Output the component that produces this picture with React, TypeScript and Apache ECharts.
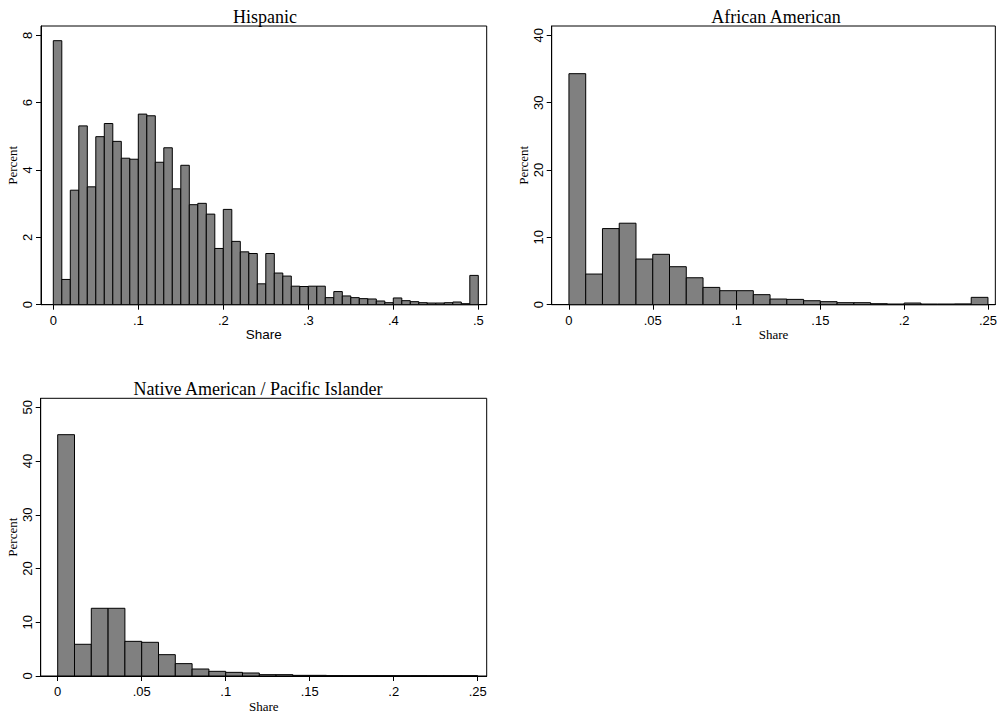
import React, { useEffect, useRef } from "react";
import * as echarts from "echarts";

// Bin width (share) used by all three histograms
const binWidth = 0.01;

// Percent per bin, Hispanic (bins 0-.01, .01-.02, ... .49-.50)
const hispanicPercent = [
  7.84, 0.75, 3.4, 5.31, 3.5, 4.99, 5.38, 4.85, 4.35, 4.32,
  5.66, 5.61, 4.23, 4.66, 3.44, 4.14, 2.97, 3.01, 2.69, 1.67,
  2.83, 1.88, 1.57, 1.52, 0.62, 1.52, 0.94, 0.85, 0.55, 0.54,
  0.55, 0.55, 0.21, 0.39, 0.26, 0.21, 0.18, 0.17, 0.11, 0.06,
  0.2, 0.12, 0.09, 0.06, 0.05, 0.05, 0.06, 0.08, 0.03, 0.87,
];

// Percent per bin, African American (bins 0-.01 ... .24-.25)
const africanPercent = [
  34.3, 4.55, 11.3, 12.1, 6.78, 7.48, 5.64, 4.0, 2.57, 2.08,
  2.08, 1.49, 0.84, 0.79, 0.59, 0.45, 0.3, 0.3, 0.15, 0.1,
  0.25, 0.1, 0.1, 0.12, 1.09,
];

// Percent per bin, Native American / Pacific Islander (bins 0-.01 ... .24-.25)
const nativePercent = [
  44.9, 5.9, 12.6, 12.6, 6.45, 6.27, 3.97, 2.3, 1.3, 0.87,
  0.68, 0.56, 0.25, 0.25, 0.12, 0.12, 0.06, 0.05, 0.05, 0.05,
  0.04, 0.05, 0.04, 0.04, 0.04,
];

// Tick values
const hispanicXTicks = [0, 0.1, 0.2, 0.3, 0.4, 0.5];
const hispanicYTicks = [0, 2, 4, 6, 8];
const africanXTicks = [0, 0.05, 0.1, 0.15, 0.2, 0.25];
const africanYTicks = [0, 10, 20, 30, 40];
const nativeXTicks = [0, 0.05, 0.1, 0.15, 0.2, 0.25];
const nativeYTicks = [0, 10, 20, 30, 40, 50];

const titles = ["Hispanic", "African American", "Native American / Pacific Islander"];

const SANS = "Liberation Sans";
const SERIF = "Liberation Serif";

function toBins(values: number[]) {
  return values.map((v, i) => [i * binWidth, (i + 1) * binWidth, v]);
}

function fmtShare(v: number) {
  if (v === 0) return "0";
  return String(+v.toFixed(4)).replace(/^0/, "");
}

export default function App() {
  const ref = useRef<HTMLDivElement>(null);
  useEffect(() => {
    if (!ref.current) return;
    document.body.style.margin = "0";
    const chart = echarts.init(ref.current, null, { renderer: "svg" });

    const grids = [
      { left: 41, top: 26, width: 445.7, height: 278.7 },
      { left: 551.7, top: 26, width: 445, height: 278.7 },
      { left: 40.7, top: 398.3, width: 446, height: 277.7 },
    ];
    const xRanges = [
      [-0.01447, 0.50988],
      [-0.01029, 0.2544],
      [-0.01012, 0.25536],
    ];
    const yMax = [8.276, 41.38, 51.67];
    const xTicks = [hispanicXTicks, africanXTicks, nativeXTicks];
    const yTicks = [hispanicYTicks, africanYTicks, nativeYTicks];
    const xNameFont = [SANS, SERIF, SERIF];
    const xNameSize = [13.5, 13, 13];
    const xNameGap = [22, 23, 24];
    const datasets = [hispanicPercent, africanPercent, nativePercent];

    const makeX = (i: number) => ({
      type: "value",
      gridIndex: i,
      min: xRanges[i][0],
      max: xRanges[i][1],
      name: "Share",
      nameLocation: "middle",
      nameGap: xNameGap[i],
      nameTextStyle: { fontFamily: xNameFont[i], fontSize: xNameSize[i], color: "#000" },
      axisLine: { show: true, onZero: false, lineStyle: { color: "#000", width: 1 } },
      axisTick: { show: true, length: 5, lineStyle: { color: "#000" }, customValues: xTicks[i] },
      axisLabel: {
        show: true,
        customValues: xTicks[i],
        formatter: (v: number) => fmtShare(v),
        fontFamily: SANS,
        fontSize: 13,
        color: "#000",
        margin: 9,
      },
      splitLine: { show: false },
    });

    const makeY = (i: number) => ({
      type: "value",
      gridIndex: i,
      min: 0,
      max: yMax[i],
      name: "Percent",
      nameLocation: "middle",
      nameRotate: 90,
      nameGap: 22,
      nameTextStyle: { fontFamily: SERIF, fontSize: 13, color: "#000" },
      axisLine: { show: true, onZero: false, lineStyle: { color: "#000", width: 1 } },
      axisTick: { show: true, length: 5, lineStyle: { color: "#000" }, customValues: yTicks[i] },
      axisLabel: {
        show: true,
        customValues: yTicks[i],
        rotate: 90,
        fontFamily: SANS,
        fontSize: 13,
        color: "#000",
        margin: 7,
      },
      splitLine: { show: false },
    });

    const renderItem = (params: any, api: any) => {
      const p0 = api.coord([api.value(0), api.value(2)]);
      const p1 = api.coord([api.value(1), 0]);
      return {
        type: "rect",
        shape: { x: p0[0], y: p0[1], width: p1[0] - p0[0], height: p1[1] - p0[1] },
        style: { fill: "#808080", stroke: "#000", lineWidth: 1 },
      };
    };

    chart.setOption({
      animation: false,
      backgroundColor: "#fff",
      title: [
        { text: titles[0], left: 260, top: 3, textAlign: "center" },
        { text: titles[1], left: 771, top: 3, textAlign: "center" },
        { text: titles[2], left: 253, top: 375, textAlign: "center" },
      ].map((t) => ({
        ...t,
        textStyle: { fontFamily: SERIF, fontSize: 18, fontWeight: "normal", color: "#000" },
      })),
      grid: grids.map((g) => ({ ...g, show: true, borderColor: "#000", borderWidth: 1, backgroundColor: "#fff" })),
      xAxis: [0, 1, 2].map(makeX),
      yAxis: [0, 1, 2].map(makeY),
      series: [0, 1, 2].map((i) => ({
        type: "custom",
        xAxisIndex: i,
        yAxisIndex: i,
        renderItem,
        encode: { x: [0, 1], y: 2 },
        data: toBins(datasets[i]),
      })),
    });
    return () => chart.dispose();
  }, []);
  return <div ref={ref} style={{ position: "absolute", left: 0, top: 0, width: 1000, height: 717 }} />;
}
